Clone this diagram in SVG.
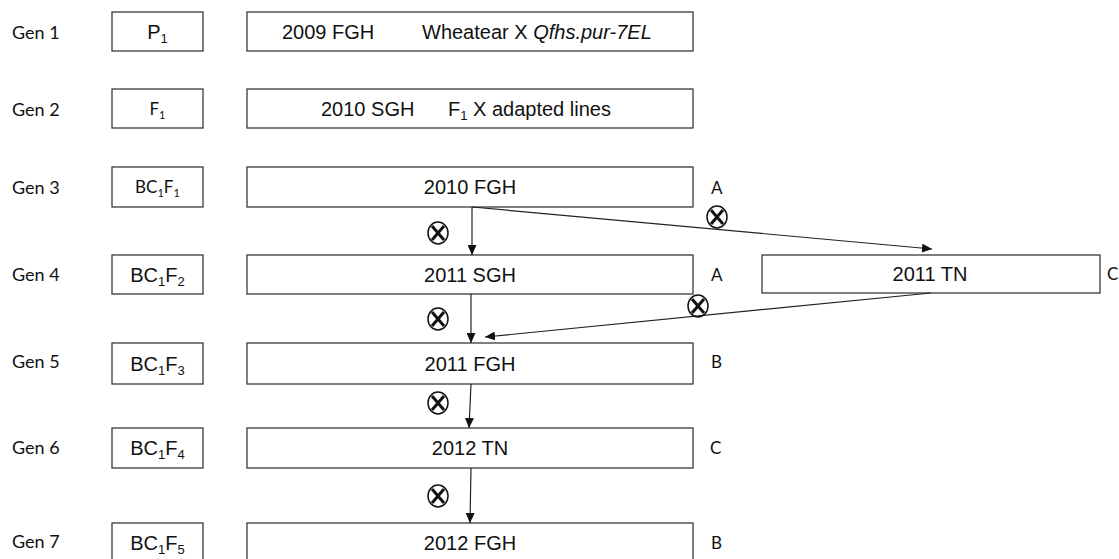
<svg xmlns="http://www.w3.org/2000/svg" width="1119" height="559" viewBox="0 0 1119 559">
<style>
.box{fill:#fff;stroke:#3a3a3a;stroke-width:1.3}
.gen{font-family:Lato,"Open Sans",sans-serif;font-size:18px;fill:#111}
.lab{font-family:Lato,"Open Sans",sans-serif;font-size:17px;fill:#111}
.cal{font-family:Lato,"Open Sans",sans-serif;font-size:17px;fill:#111;text-anchor:middle}
.ar{font-family:"Liberation Sans",Arial,sans-serif;font-size:20px;fill:#111}
.mid{text-anchor:middle}
.sub{font-size:13px}
.csub{font-size:11px}
.conn{stroke:#222;stroke-width:1.2;fill:none}
.ox{fill:none;stroke:#111}
</style>
<defs>
<marker id="arr" markerUnits="userSpaceOnUse" markerWidth="10" markerHeight="9" refX="10" refY="4.5" orient="auto">
<path d="M0,0 L10,4.5 L0,9 Z" fill="#111"/>
</marker>
<g id="otimes">
<ellipse cx="0" cy="0" rx="10" ry="11" class="ox" stroke-width="1.5"/>
<path d="M-6,-7 L6,7 M6,-7 L-6,7" class="ox" stroke-width="3"/>
</g>
</defs>

<g id="gen-labels">
<text class="gen" x="12" y="39">Gen 1</text>
<text class="gen" x="12" y="116">Gen 2</text>
<text class="gen" x="12" y="194">Gen 3</text>
<text class="gen" x="12" y="281">Gen 4</text>
<text class="gen" x="12" y="368">Gen 5</text>
<text class="gen" x="12" y="454">Gen 6</text>
<text class="gen" x="12" y="548">Gen 7</text>
</g>

<g id="p1">
<rect class="box" x="112" y="12" width="91" height="39"/>
<text class="ar mid" x="157.5" y="39">P<tspan class="sub" dy="4">1</tspan></text>
</g>
<g id="f1">
<rect class="box" x="112" y="89" width="91" height="39"/>
<text class="cal" x="157.5" y="115">F<tspan class="csub" dy="4">1</tspan></text>
</g>
<g id="bc1f1">
<rect class="box" x="112" y="167" width="91" height="40"/>
<text class="cal" x="157.5" y="193">BC<tspan class="csub" dy="4">1</tspan><tspan dy="-4">F</tspan><tspan class="csub" dy="4">1</tspan></text>
</g>
<g id="bc1f2">
<rect class="box" x="112" y="255" width="91" height="39"/>
<text class="ar mid" x="157.5" y="282" font-size="21">BC<tspan class="sub" dy="4">1</tspan><tspan dy="-4">F</tspan><tspan class="sub" dy="4">2</tspan></text>
</g>
<g id="bc1f3">
<rect class="box" x="112" y="343" width="91" height="41"/>
<text class="ar mid" x="157.5" y="371" font-size="21">BC<tspan class="sub" dy="4">1</tspan><tspan dy="-4">F</tspan><tspan class="sub" dy="4">3</tspan></text>
</g>
<g id="bc1f4">
<rect class="box" x="112" y="428" width="91" height="40"/>
<text class="ar mid" x="157.5" y="455" font-size="21">BC<tspan class="sub" dy="4">1</tspan><tspan dy="-4">F</tspan><tspan class="sub" dy="4">4</tspan></text>
</g>
<g id="bc1f5">
<rect class="box" x="112" y="523" width="91" height="40"/>
<text class="ar mid" x="157.5" y="550" font-size="21">BC<tspan class="sub" dy="4">1</tspan><tspan dy="-4">F</tspan><tspan class="sub" dy="4">5</tspan></text>
</g>

<g id="n2009fgh">
<rect class="box" x="247" y="12" width="446" height="39"/>
<text class="ar" x="282" y="38.5">2009 FGH</text>
<text class="ar" x="422" y="38.5">Wheatear X <tspan font-style="italic">Qfhs.pur-7EL</tspan></text>
</g>
<g id="n2010sgh">
<rect class="box" x="247" y="89" width="446" height="39"/>
<text class="ar" x="321" y="115.5">2010 SGH</text>
<text class="ar" x="448" y="115.5">F<tspan class="sub" dy="4">1</tspan><tspan dy="-4"> X adapted lines</tspan></text>
</g>
<g id="n2010fgh">
<rect class="box" x="247" y="167" width="446" height="40"/>
<text class="ar mid" x="470" y="194">2010 FGH</text>
<text class="lab" x="711" y="194">A</text>
</g>
<g id="n2011sgh">
<rect class="box" x="247" y="255" width="446" height="39"/>
<text class="ar mid" x="470" y="281.5">2011 SGH</text>
<text class="lab" x="711" y="281">A</text>
</g>
<g id="n2011tn">
<rect class="box" x="762" y="255" width="338" height="38"/>
<text class="ar mid" x="930" y="281">2011 TN</text>
<text class="lab" x="1107" y="280">C</text>
</g>
<g id="n2011fgh">
<rect class="box" x="247" y="343" width="446" height="41"/>
<text class="ar mid" x="470" y="370.5">2011 FGH</text>
<text class="lab" x="711" y="368">B</text>
</g>
<g id="n2012tn">
<rect class="box" x="247" y="428" width="446" height="40"/>
<text class="ar mid" x="470" y="455">2012 TN</text>
<text class="lab" x="710" y="454">C</text>
</g>
<g id="n2012fgh">
<rect class="box" x="247" y="523" width="446" height="40"/>
<text class="ar mid" x="470" y="550">2012 FGH</text>
<text class="lab" x="711" y="549">B</text>
</g>

<g id="connectors">
<path class="conn" d="M472,207 L472,255" marker-end="url(#arr)"/>
<path class="conn" d="M472,207 L932,249" marker-end="url(#arr)"/>
<path class="conn" d="M471,294 L471,343" marker-end="url(#arr)"/>
<path class="conn" d="M931,293 L485,337" marker-end="url(#arr)"/>
<path class="conn" d="M471,384 L469,428" marker-end="url(#arr)"/>
<path class="conn" d="M471,468 L470,523" marker-end="url(#arr)"/>
<use href="#otimes" x="438" y="233"/>
<use href="#otimes" x="717" y="217"/>
<use href="#otimes" x="438" y="319"/>
<use href="#otimes" x="698" y="306"/>
<use href="#otimes" x="438" y="403"/>
<use href="#otimes" x="438" y="496"/>
</g>
</svg>
